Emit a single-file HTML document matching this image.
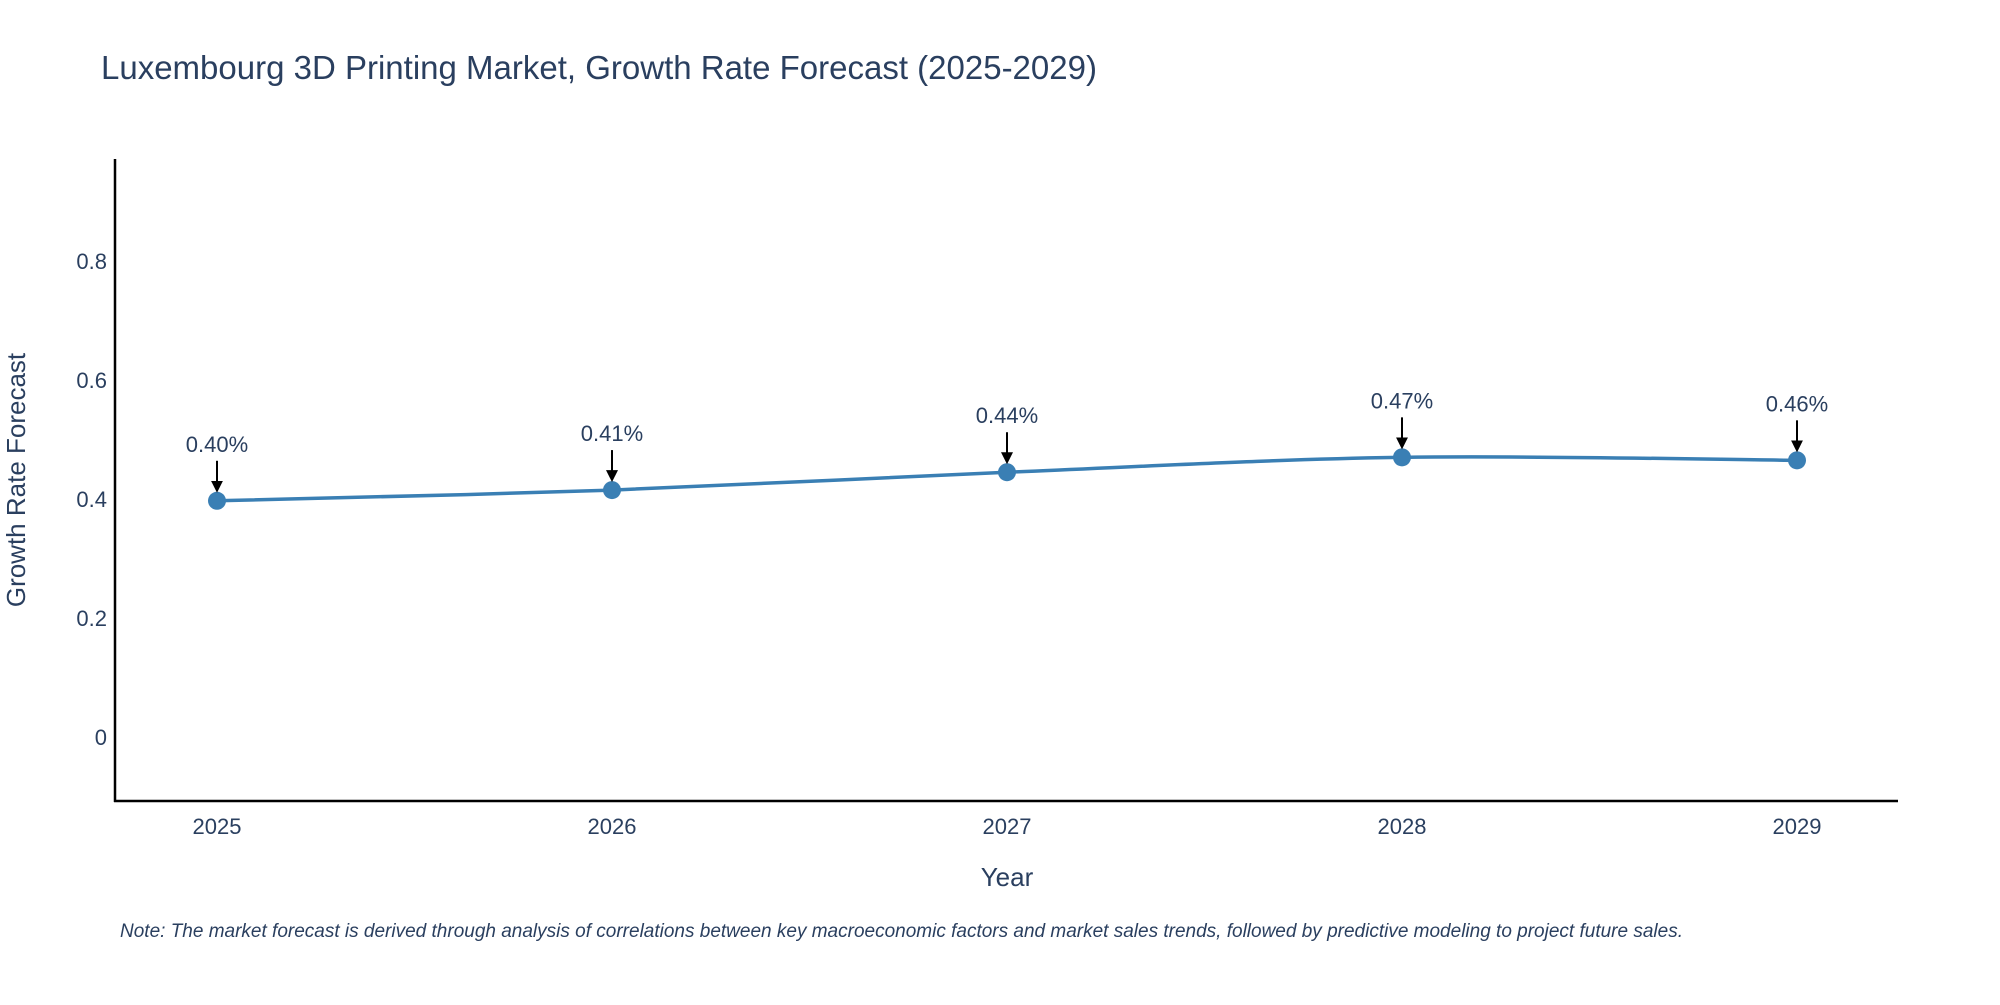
<!DOCTYPE html>
<html><head><meta charset="utf-8"><style>
body{margin:0;background:#fff;}
svg text{font-family:"Liberation Sans",sans-serif;}
</style></head><body>
<svg id="chart" width="2000" height="1000" xmlns="http://www.w3.org/2000/svg">
<text x="101" y="79" font-size="33" fill="#2a3f5f">Luxembourg 3D Printing Market, Growth Rate Forecast (2025-2029)</text>
<g id="yticks"></g><g id="xticks"></g>
<line x1="115" y1="159" x2="115" y2="802" stroke="#000" stroke-width="2.5"/>
<line x1="114" y1="801" x2="1898" y2="801" stroke="#000" stroke-width="2.5"/>
<path id="line" fill="none" stroke="#3a7fb4" stroke-width="3.5"/>
<g id="marks"></g>
<text x="25" y="480" font-size="26" fill="#2a3f5f" text-anchor="middle" transform="rotate(-90 25 480)">Growth Rate Forecast</text>
<text x="1007" y="886" font-size="26" fill="#2a3f5f" text-anchor="middle">Year</text>
<text x="120" y="937" font-size="19" font-style="italic" fill="#2a3f5f">Note: The market forecast is derived through analysis of correlations between key macroeconomic factors and market sales trends, followed by predictive modeling to project future sales.</text>
<defs><marker id="ah" markerWidth="6" markerHeight="6" refX="5" refY="3" orient="auto" markerUnits="strokeWidth"><path d="M0,0 L6,3 L0,6z" fill="#000"/></marker></defs>
</svg>
<script>
const years=[2025,2026,2027,2028,2029];
const values=[0.397,0.415,0.445,0.470,0.465];
const labels=["0.40%","0.41%","0.44%","0.47%","0.46%"];
const yTicks=[0,0.2,0.4,0.6,0.8];
const ns="http://www.w3.org/2000/svg";
const svg=document.getElementById('chart');
function X(v){return 217+(v-2025)*395;}
function Y(v){return 737-v*595;}
function mk(t,a,p){const e=document.createElementNS(ns,t);for(const k in a)e.setAttribute(k,a[k]);(p||svg).appendChild(e);return e;}
const yt=document.getElementById('yticks'),xt=document.getElementById('xticks'),mg=document.getElementById('marks');
yTicks.forEach(v=>{const t=mk('text',{x:107,y:Y(v)+8,'font-size':22,fill:'#2a3f5f','text-anchor':'end'},yt);t.textContent=String(v);

});
years.forEach(v=>{const t=mk('text',{x:X(v),y:834,'font-size':22,fill:'#2a3f5f','text-anchor':'middle'},xt);t.textContent=String(v);

});
const pts=years.map((y,i)=>[X(y),Y(values[i])]);
let d='M'+pts[0][0]+','+pts[0][1];
for(let i=0;i<pts.length-1;i++){const p0=pts[Math.max(0,i-1)],p1=pts[i],p2=pts[i+1],p3=pts[Math.min(pts.length-1,i+2)];const s=6;
d+=' C'+(p1[0]+(p2[0]-p0[0])/s)+','+(p1[1]+(p2[1]-p0[1])/s)+' '+(p2[0]-(p3[0]-p1[0])/s)+','+(p2[1]-(p3[1]-p1[1])/s)+' '+p2[0]+','+p2[1];}
document.getElementById('line').setAttribute('d',d);
pts.forEach((p,i)=>{
const c=mk('circle',{cx:p[0],cy:p[1],r:9,fill:'#3a7fb4'},mg);


const a=mk('line',{x1:p[0],y1:p[1]-40,x2:p[0],y2:p[1]-10,stroke:'#000','stroke-width':2,'marker-end':'url(#ah)'},mg);


const t=mk('text',{x:p[0],y:p[1]-49,'font-size':22,fill:'#2a3f5f','text-anchor':'middle'},mg);t.textContent=labels[i];


});
</script>
</body></html>
